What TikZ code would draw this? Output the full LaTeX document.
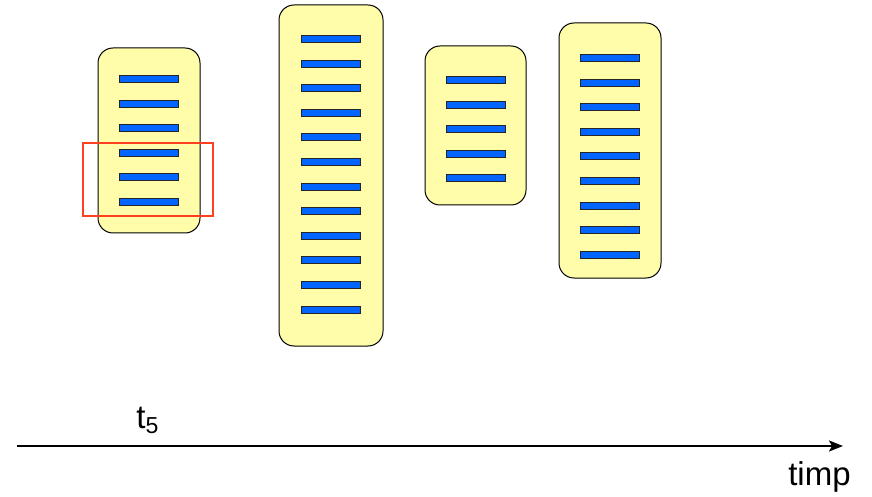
\documentclass[tikz,border=0pt]{standalone}
\usepackage{fontspec}
\setmainfont{Liberation Sans}
\usepackage{xcolor}
\usetikzlibrary{arrows.meta}
\definecolor{blocgalben}{RGB}{255,253,170}
\definecolor{liniealbastru}{RGB}{0,102,255}
\definecolor{selrosu}{RGB}{255,64,32}
\tikzset{
  bloc/.style={draw=black, line width=0.5pt, fill=blocgalben, rounded corners=7.5pt, inner sep=0pt},
  linie/.style={draw=black!85, line width=0.5pt, fill=liniealbastru, minimum width=29.5pt, minimum height=3.5pt, inner sep=0pt},
}

\begin{document}
\begin{tikzpicture}[x=0.5pt,y=-0.5pt,font=\fontsize{16.5}{20}\selectfont]
\useasboundingbox (0,0) rectangle (872,497);
\foreach \k/\cx/\cy/\w/\h/\yb/\n in {1/149/140.5/102/185/79/6, 2/331/175.5/104/341/39/12, 3/475.5/125.5/101/159/80/5, 4/610/150.5/102/255/58/9}{
  \node[bloc, minimum width=\w*0.5pt, minimum height=\h*0.5pt] (b\k) at (\cx,\cy) {};
  \foreach \i in {1,...,\n}{\node[linie] (b\k-\i) at (\cx,{\yb+(\i-1)*24.6}) {};}}
\node[draw=selrosu, line width=1pt, minimum width=65pt, minimum height=36.5pt, inner sep=0pt] (sel) at (148,179.5) {};
\coordinate (ax0) at (17,446);
\coordinate (ax1) at (843,446);
\draw[line width=1pt, -{Stealth[length=7pt,width=5.5pt,inset=1.5pt]}] (ax0) -- (ax1);
\node[anchor=base west, inner sep=0pt] (t5) at (136,428) {t\textsubscript{5}};
\node[anchor=base east, inner sep=0pt] (timp) at (851,485) {timp};
\end{tikzpicture}
\end{document}
